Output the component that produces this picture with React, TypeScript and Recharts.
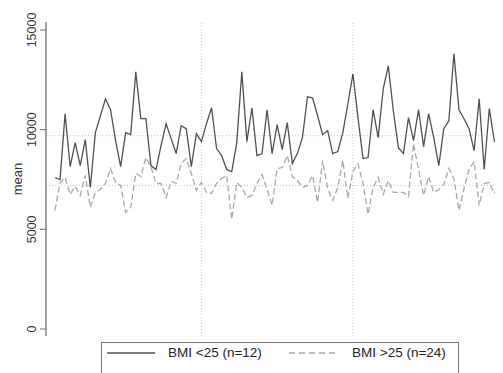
import React from "react"
import { Line, LineChart, ReferenceLine, XAxis, YAxis } from "recharts"

// mean per day, BMI <25
const bmiUnder = [
  7600, 7500, 10800, 8150, 9350, 8200, 9500, 7100, 9850, 10700,
  11550, 11000, 9450, 8150, 9850, 9750, 12900, 10550, 10550, 8200,
  8000, 9200, 10300, 9550, 8800, 10200, 10050, 8150, 9800, 9400,
  10300, 11100, 9050, 8700, 8000, 7900, 9350, 12900, 9400, 11100,
  8700, 8800, 11000, 8800, 10250, 9000, 10350, 8300, 8800, 9600,
  11650, 11600, 10700, 9750, 9950, 8800, 8900, 9850, 11300, 12800,
  10600, 8550, 8600, 11000, 9600, 12050, 13200, 10950, 9100, 8800,
  10600, 9450, 11000, 9150, 10800, 9600, 8200, 10050, 10450, 13800,
  11000, 10550, 10050, 8950, 11550, 8000, 11050, 9450, 9050, 8600,
]

// mean per day, BMI >25
const bmiOver = [
  5950, 7350, 7600, 6750, 7150, 6700, 7700, 6100, 6850, 7000,
  7300, 8050, 7350, 7200, 5850, 6100, 7800, 7650, 8600, 8150,
  7300, 7300, 6600, 7400, 7300, 8300, 8550, 7800, 6950, 7350,
  6850, 6800, 7300, 7550, 7700, 5500, 7350, 7100, 6600, 6700,
  7300, 7750, 7000, 6200, 8050, 8100, 8700, 7650, 7450, 7100,
  7200, 7700, 6350, 8450, 7050, 6450, 7100, 8450, 6550, 7900,
  8300, 7300, 5750, 7100, 7600, 6750, 7450, 6850, 6850, 6850,
  6650, 9300, 8000, 6700, 7650, 6850, 7000, 7250, 8050, 7550,
  5950, 7050, 8000, 8400, 6200, 7300, 7350, 6800, 7350, 6450,
]

const yTicks = [0, 5000, 10000, 15000]
const groupMeans = [9700, 7200]
const dayMarks = [30, 60]
const seriesNames = ["BMI <25 (n=12)", "BMI >25 (n=24)"]

const data = bmiUnder.map((v, i) => ({ day: i + 1, under: v, over: bmiOver[i] }))

const FONT = "'Liberation Sans', Arial, sans-serif"
const AXIS = "#6e6e6e"
const SOLID = "#505050"
const DASHED = "#a8a8a8"

function YTick(props: any) {
  const { x, y, payload } = props
  return (
    <text
      transform={`translate(${x - 7},${y}) rotate(-90)`}
      textAnchor="middle"
      dy="0.36em"
      fontSize={12.5}
      fontFamily={FONT}
      fill="#333"
    >
      {payload.value}
    </text>
  )
}

function LegendBox() {
  return (
    <div
      style={{
        position: "absolute",
        left: 93,
        top: 334,
        width: 356,
        height: 60,
        border: "1px solid #777",
        background: "#fff",
        fontFamily: FONT,
        fontSize: 13.5,
        color: "#222",
      }}
    >
      <svg width={356} height={40} style={{ position: "absolute", left: 0, top: 0 }}>
        <line x1={5} x2={53} y1={10} y2={10} stroke={SOLID} strokeWidth={1.3} />
        <line x1={187} x2={236} y1={10} y2={10} stroke={DASHED} strokeWidth={1.3} strokeDasharray="6 4" />
      </svg>
      <span style={{ position: "absolute", left: 66, top: 2 }}>{seriesNames[0]}</span>
      <span style={{ position: "absolute", left: 250, top: 2 }}>{seriesNames[1]}</span>
    </div>
  )
}

export default function App() {
  return (
    <div style={{ position: "relative", width: 495, height: 365, overflow: "hidden", background: "#fff" }}>
      <LineChart width={540} height={365} data={data} margin={{ top: 14, right: 10, bottom: 37, left: 0 }}>
        <XAxis
          dataKey="day"
          type="number"
          domain={[-0.78, 96.65]}
          allowDataOverflow
          tick={false}
          tickLine={false}
          height={0}
          axisLine={{ stroke: AXIS, strokeWidth: 1.3 }}
        />
        <XAxis
          xAxisId="top"
          orientation="top"
          dataKey="day"
          type="number"
          domain={[-0.78, 96.65]}
          allowDataOverflow
          tick={false}
          tickLine={false}
          height={0}
          axisLine={{ stroke: AXIS, strokeWidth: 1.3 }}
        />
        <YAxis
          type="number"
          domain={[-350, 15400]}
          ticks={yTicks}
          width={38}
          tickSize={6}
          tickMargin={2}
          tick={<YTick />}
          tickLine={{ stroke: AXIS }}
          axisLine={{ stroke: AXIS, strokeWidth: 1.3 }}
          label={{
            value: "mean",
            angle: -90,
            position: "insideLeft",
            offset: 9,
            style: { textAnchor: "middle", fontFamily: FONT, fontSize: 13, fill: "#333" },
          }}
        />
        {dayMarks.map((d) => (
          <ReferenceLine key={d} x={d} stroke="#c8c8c8" strokeDasharray="1 2" />
        ))}
        {groupMeans.map((m) => (
          <ReferenceLine key={m} y={m} stroke="#c8c8c8" strokeDasharray="1 2" />
        ))}
        <Line
          dataKey="under"
          name={seriesNames[0]}
          stroke={SOLID}
          strokeWidth={1.3}
          dot={false}
          isAnimationActive={false}
        />
        <Line
          dataKey="over"
          name={seriesNames[1]}
          stroke={DASHED}
          strokeWidth={1.3}
          strokeDasharray="6 3"
          dot={false}
          isAnimationActive={false}
        />
      </LineChart>
      <LegendBox />
    </div>
  )
}
